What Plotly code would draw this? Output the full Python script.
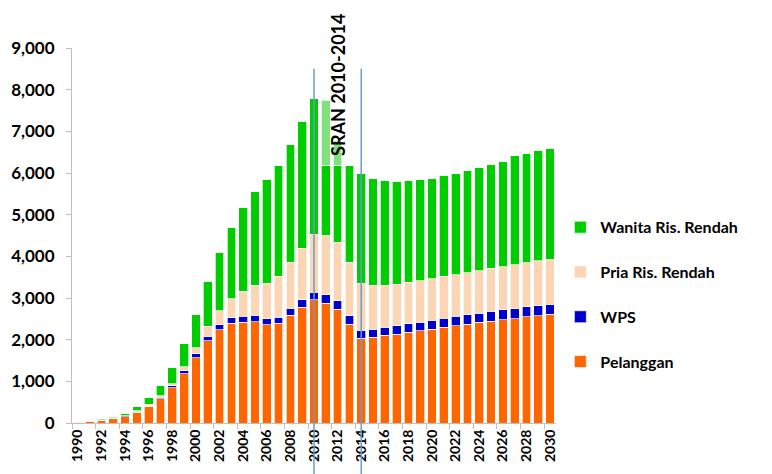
import plotly.graph_objects as go

years = list(range(1990, 2031))

pelanggan = [24, 40, 70, 110, 150, 262, 397, 588, 850, 1183, 1564, 1976, 2240, 2400, 2424, 2432,
             2360, 2400, 2584, 2776, 2960, 2880, 2736, 2376, 2040, 2064, 2104, 2136, 2176, 2216,
             2256, 2296, 2336, 2376, 2416, 2440, 2480, 2504, 2552, 2576, 2608]
wps = [2, 3, 5, 8, 20, 25, 20, 30, 48, 72, 95, 112, 120, 128, 144, 152, 144, 144, 168, 184,
       184, 200, 200, 200, 184, 192, 192, 200, 208, 208, 216, 216, 224, 224, 224, 240, 240,
       240, 240, 240, 248]
pria = [5, 6, 8, 10, 5, 7, 28, 41, 47, 95, 151, 232, 336, 456, 592, 720, 856, 984, 1104, 1240,
        1392, 1424, 1400, 1280, 1136, 1048, 1008, 1000, 992, 992, 992, 1008, 1000, 1008, 1016,
        1032, 1032, 1056, 1056, 1080, 1080]
wanita = [9, 15, 20, 22, 63, 95, 158, 246, 381, 548, 786, 1080, 1408, 1720, 2016, 2264, 2480,
          2656, 2832, 3048, 3264, 1680, 1848, 2328, 2640, 2576, 2512, 2464, 2440, 2424, 2416,
          2432, 2440, 2464, 2480, 2504, 2528, 2616, 2632, 2648, 2664]
sran_extra = [0] * 21 + [1568, 592] + [0] * 18

x_tick_labels = [str(y) for y in range(1990, 2031, 2)]
y_tick_vals = list(range(0, 9001, 1000))
y_tick_text = [f"{v:,}" for v in y_tick_vals]

BOLD = dict(family="Lato", color="#000000", weight="bold")
line = dict(color="rgba(255,255,255,0.85)", width=0.8)

fig = go.Figure()
fig.add_bar(x=years, y=pelanggan, name="Pelanggan", marker=dict(color="#FF6600", line=line),
            legendgroup="a", legendrank=4)
fig.add_bar(x=years, y=wps, name="WPS", marker=dict(color="#0000CC", line=line),
            legendgroup="b", legendrank=3)
fig.add_bar(x=years, y=pria, name="Pria Ris. Rendah", marker=dict(color="#FCD5B5", line=line),
            legendgroup="c", legendrank=2)
fig.add_bar(x=years, y=wanita, name="Wanita Ris. Rendah", marker=dict(color="#00CC00", line=line),
            legendgroup="d", legendrank=1)
fig.add_bar(x=years, y=sran_extra, name="SRAN", marker=dict(color="#80E27E", line=line),
            showlegend=False, legendgroup="e", legendrank=5)

for xv in [2010, 2014]:
    fig.add_shape(type="line", xref="x", yref="paper", x0=xv, x1=xv, y0=-0.2, y1=0.945,
                  line=dict(color="#6A9BD1", width=1.5), layer="above")

fig.add_annotation(text="SRAN 2010-2014", xref="x", yref="paper", x=2012.05, y=0.902,
                   xanchor="center", yanchor="middle", textangle=-90, showarrow=False,
                   font=dict(size=18, **BOLD))

fig.update_layout(
    width=772, height=474,
    barmode="stack", bargap=0.26,
    plot_bgcolor="white", paper_bgcolor="white",
    margin=dict(l=72, r=216, t=48, b=51),
    showlegend=True,
    legend=dict(x=1.009, xanchor="left", y=0.342, yanchor="middle",
                traceorder="grouped", tracegroupgap=21,
                font=dict(size=16, **BOLD), bgcolor="rgba(0,0,0,0)"),
    xaxis=dict(range=[1989.5, 2030.5], tickmode="array",
               tickvals=list(range(1990, 2031, 2)), ticktext=x_tick_labels,
               tickangle=-90, tickfont=dict(size=14, **BOLD), ticks="", showgrid=False,
               showline=True, linecolor="#BFBFBF", linewidth=1, zeroline=False,
               minor=dict(ticks="outside", tick0=1989.5, dtick=2, ticklen=5,
                          tickcolor="#BFBFBF", showgrid=False)),
    yaxis=dict(range=[0, 9000], tickmode="array", tickvals=y_tick_vals, ticktext=y_tick_text,
               tickfont=dict(size=17, **BOLD), ticks="outside", ticklen=5,
               tickcolor="#BFBFBF", showgrid=False, showline=True, linecolor="#BFBFBF",
               linewidth=1, zeroline=False, ticklabelstandoff=8),
)

fig.write_html("out.html")
